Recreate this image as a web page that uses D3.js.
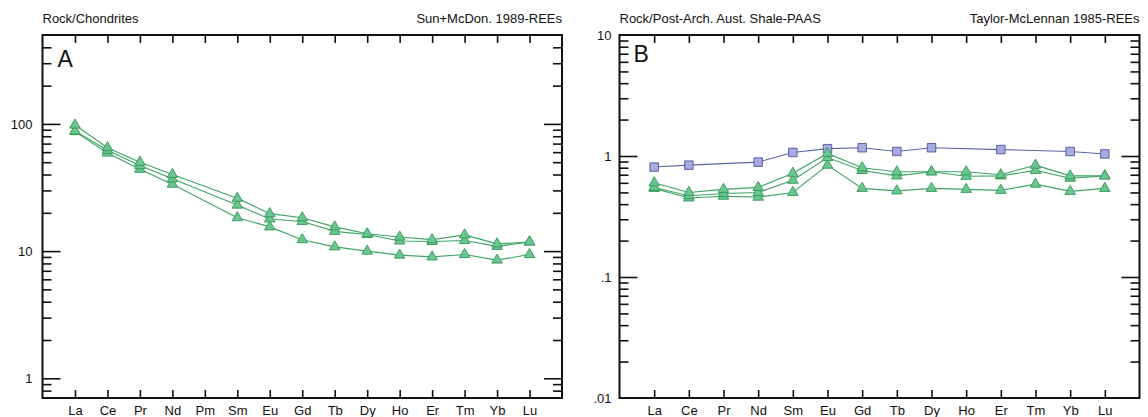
<!DOCTYPE html>
<html>
<head>
<meta charset="utf-8">
<script src="https://cdn.jsdelivr.net/npm/d3@7"></script>
<style>
  body { margin: 0; background: #fff; }
  svg { display: block; font-family: "Liberation Sans", Arial, sans-serif; }
  .tick line { stroke: #111; stroke-width: 1.6; }
  .tick text { fill: #111; font-size: 13px; }
</style>
</head>
<body>
<script>
// REE element lists
var catsA = ["La", "Ce", "Pr", "Nd", "Pm", "Sm", "Eu", "Gd", "Tb", "Dy", "Ho", "Er", "Tm", "Yb", "Lu"];
var catsB = ["La", "Ce", "Pr", "Nd", "Sm", "Eu", "Gd", "Tb", "Dy", "Ho", "Er", "Tm", "Yb", "Lu"];

// panel A: chondrite-normalised (Pm not measured)
var sampleA1 = [98, 65, 50, 40, null, 26, 19.7, 18.3, 15.5, 13.7, 12.9, 12.3, 13.4, 11.4, 11.8];
var sampleA2 = [88, 62, 47, 37, null, 23, 17.9, 17.1, 14.3, 13.5, 12.0, 11.9, 12.1, 10.9, 11.8];
var sampleA3 = [87, 59, 44, 33.6, null, 18.3, 15.5, 12.3, 10.8, 10.0, 9.3, 9.0, 9.4, 8.5, 9.4];

// panel B: PAAS-normalised
var refB = [0.81, 0.84, null, 0.89, 1.07, 1.15, 1.17, 1.09, 1.17, null, 1.13, null, 1.09, 1.04];
var sampleB1 = [0.60, 0.50, 0.53, 0.55, 0.72, 1.05, 0.80, 0.74, 0.74, 0.74, 0.70, 0.84, 0.685, 0.685];
var sampleB2 = [0.55, 0.47, 0.49, 0.50, 0.63, 0.97, 0.76, 0.685, 0.74, 0.68, 0.685, 0.76, 0.655, 0.685];
var sampleB3 = [0.54, 0.45, 0.465, 0.457, 0.50, 0.84, 0.54, 0.515, 0.54, 0.53, 0.52, 0.585, 0.51, 0.54];

var green = { line: "#3da564", fill: "#6cc48e", stroke: "#2f9a57", shape: d3.symbolTriangle, size: 48 };
var blue = { line: "#5b62ad", fill: "#a7abdd", stroke: "#4d53a0", shape: d3.symbolSquare, size: 72 };

var svg = d3.select("body").append("svg")
  .attr("width", 1148)
  .attr("height", 417);

function fmt(v) {
  var s = d3.format("~g")(v);
  return s.replace(/^0\./, ".");
}

function drawPanel(opts) {
  var x = d3.scalePoint().domain(opts.cats).range([opts.left, opts.right]).padding(1);
  var y = d3.scaleLog().domain(opts.ydom).range([398, 35]);

  var lo = Math.floor(Math.log10(opts.ydom[0])), hi = Math.ceil(Math.log10(opts.ydom[1]));
  var majors = [], minors = [];
  for (var d = lo; d <= hi; d++) {
    for (var k = 1; k < 10; k++) {
      var v = +(k * Math.pow(10, d)).toPrecision(6);
      if (v < opts.ydom[0] * 0.999 || v > opts.ydom[1] * 1.001) continue;
      if (k == 1) majors.push(v); else minors.push(v);
    }
  }

  var g = svg.append("g");

  g.append("g").attr("transform", "translate(" + opts.left + ",0)")
    .call(d3.axisLeft(y).tickValues(minors).tickSize(-9).tickSizeOuter(0).tickFormat(""));
  g.append("g").attr("transform", "translate(" + opts.left + ",0)")
    .call(d3.axisLeft(y).tickValues(majors).tickSize(-18).tickSizeOuter(0).tickPadding(opts.labPad).tickFormat(fmt));
  g.append("g").attr("transform", "translate(" + opts.right + ",0)")
    .call(d3.axisRight(y).tickValues(minors).tickSize(-9).tickSizeOuter(0).tickFormat(""));
  g.append("g").attr("transform", "translate(" + opts.right + ",0)")
    .call(d3.axisRight(y).tickValues(majors).tickSize(-18).tickSizeOuter(0).tickFormat(""));
  g.append("g").attr("transform", "translate(0,398)")
    .call(d3.axisBottom(x).tickSize(-8).tickSizeOuter(0).tickPadding(8));
  g.append("g").attr("transform", "translate(0,35)")
    .call(d3.axisTop(x).tickSize(-8).tickSizeOuter(0).tickFormat(""));
  g.selectAll(".domain").remove();
  // majors sitting on the frame edge have no tick mark
  g.selectAll(".tick line").filter(function (v) { return v == opts.ydom[0] || v == opts.ydom[1]; }).remove();

  g.append("rect")
    .attr("x", opts.left).attr("y", 35)
    .attr("width", opts.right - opts.left).attr("height", 363)
    .attr("fill", "none").attr("stroke", "#111").attr("stroke-width", 2);

  g.append("text").attr("x", opts.left).attr("y", 23)
    .attr("font-size", 13).attr("fill", "#111").text(opts.titleL);
  g.append("text").attr("x", opts.right).attr("y", 23).attr("text-anchor", "end")
    .attr("font-size", 13).attr("fill", "#111").text(opts.titleR);
  g.append("text").attr("x", opts.left + opts.tagDx).attr("y", opts.tagY)
    .attr("font-size", 23).attr("fill", "#111").text(opts.tag);

  var line = d3.line().x(function (p) { return x(p.c); }).y(function (p) { return y(p.v); });

  opts.series.forEach(function (s) {
    var pts = opts.cats.map(function (c, i) { return { c: c, v: s.values[i] }; })
      .filter(function (p) { return p.v != null; });
    g.append("path").datum(pts)
      .attr("d", line).attr("fill", "none")
      .attr("stroke", s.style.line).attr("stroke-width", 1.1);
    g.selectAll(null).data(pts).enter().append("path")
      .attr("transform", function (p) { return "translate(" + x(p.c) + "," + y(p.v) + ")"; })
      .attr("d", d3.symbol(s.style.shape, s.style.size))
      .attr("fill", s.style.fill).attr("stroke", s.style.stroke).attr("stroke-width", 0.9);
  });
}

drawPanel({
  cats: catsA, left: 42.5, right: 562, ydom: [0.7, 500], labPad: 10,
  titleL: "Rock/Chondrites", titleR: "Sun+McDon. 1989-REEs", tag: "A", tagDx: 15, tagY: 67,
  series: [
    { values: sampleA3, style: green },
    { values: sampleA2, style: green },
    { values: sampleA1, style: green }
  ]
});

drawPanel({
  cats: catsB, left: 619.5, right: 1139.5, ydom: [0.01, 10], labPad: 8,
  titleL: "Rock/Post-Arch. Aust. Shale-PAAS", titleR: "Taylor-McLennan 1985-REEs", tag: "B", tagDx: 14, tagY: 62,
  series: [
    { values: refB, style: blue },
    { values: sampleB3, style: green },
    { values: sampleB2, style: green },
    { values: sampleB1, style: green }
  ]
});
</script>
</body>
</html>
